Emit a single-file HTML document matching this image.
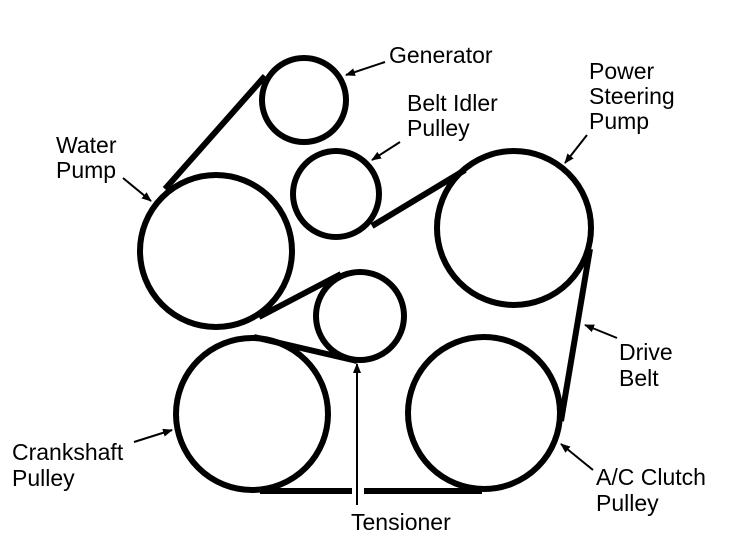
<!DOCTYPE html>
<html><head><meta charset="utf-8"><style>
html,body{margin:0;padding:0;background:#fff;}
svg{display:block;}
text{font-family:"Liberation Sans",sans-serif;font-size:23px;fill:#000;}
</style></head><body>
<svg width="738" height="540" viewBox="0 0 738 540" xmlns="http://www.w3.org/2000/svg">
<defs><marker id="a" markerWidth="10" markerHeight="8" refX="9" refY="4" orient="auto" markerUnits="userSpaceOnUse"><path d="M0,0 L10,4 L0,8 Z" fill="#000"/></marker></defs>
<g fill="none" stroke="#000" stroke-width="6">
<circle cx="304" cy="100" r="42"/>
<circle cx="336" cy="194" r="43"/>
<circle cx="216" cy="251" r="76"/>
<circle cx="514" cy="228" r="77"/>
<circle cx="360" cy="316" r="44"/>
<circle cx="252" cy="414" r="76"/>
<circle cx="484" cy="413" r="76"/>
<line x1="165" y1="189" x2="265" y2="76"/>
<line x1="372" y1="226" x2="465" y2="170"/>
<line x1="259" y1="317" x2="341" y2="274"/>
<line x1="254" y1="337" x2="357" y2="361"/>
<line x1="260" y1="491" x2="352" y2="491"/>
<line x1="364" y1="491" x2="482" y2="491"/>
<line x1="590" y1="249" x2="561" y2="421"/>
</g>
<g stroke="#000" stroke-width="2" fill="none">
<line x1="357" y1="505" x2="357" y2="364" marker-end="url(#a)"/>
<line x1="385" y1="62" x2="346" y2="75" marker-end="url(#a)"/>
<line x1="400" y1="142" x2="372" y2="160" marker-end="url(#a)"/>
<line x1="587" y1="135" x2="565" y2="163" marker-end="url(#a)"/>
<line x1="123" y1="178" x2="151" y2="201" marker-end="url(#a)"/>
<line x1="617" y1="338" x2="585" y2="325" marker-end="url(#a)"/>
<line x1="134" y1="442" x2="172" y2="430" marker-end="url(#a)"/>
<line x1="593" y1="470" x2="561" y2="444" marker-end="url(#a)"/>
</g>
<text x="389" y="63">Generator</text>
<text x="407" y="111">Belt Idler</text>
<text x="407" y="136">Pulley</text>
<text x="589" y="79">Power</text>
<text x="589" y="104">Steering</text>
<text x="589" y="129">Pump</text>
<text x="56" y="153">Water</text>
<text x="56" y="178">Pump</text>
<text x="619" y="360">Drive</text>
<text x="619" y="386">Belt</text>
<text x="12" y="460">Crankshaft</text>
<text x="12" y="486">Pulley</text>
<text x="596" y="485">A/C Clutch</text>
<text x="596" y="511">Pulley</text>
<text x="351" y="530">Tensioner</text>
</svg>
</body></html>
